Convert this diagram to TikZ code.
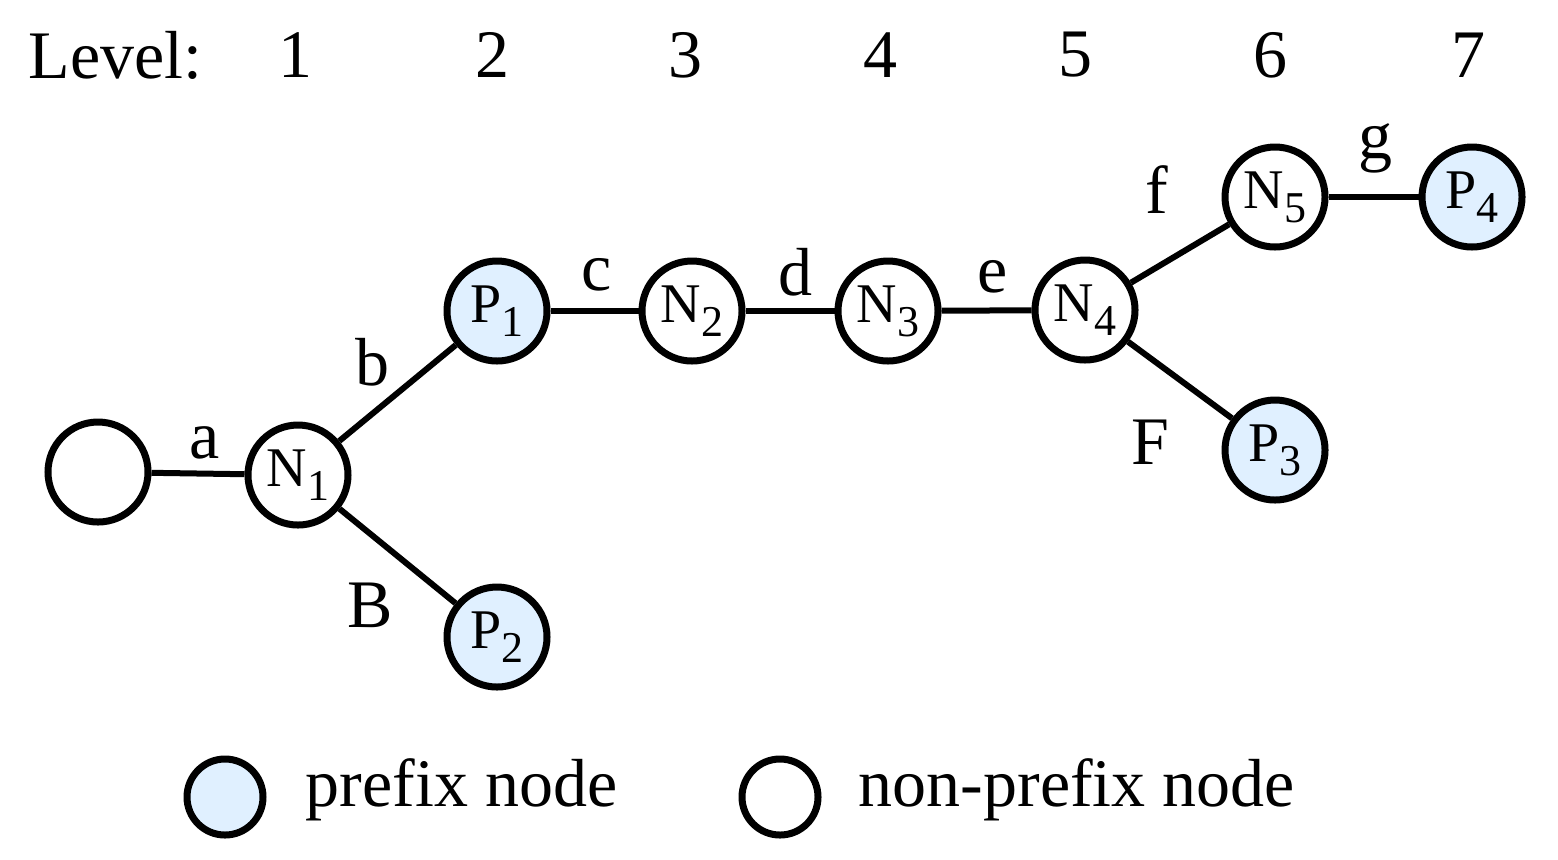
\documentclass[tikz,border=0pt]{standalone}
\usepackage{fontspec}
\setmainfont{Liberation Serif}
\begin{document}
\begin{tikzpicture}[x=0.25pt,y=-0.25pt,
  nd/.style={circle,draw=black,line width=1.75pt,minimum size=25pt,inner sep=0pt,font=\fontsize{14}{14}\selectfont},
  pf/.style={nd,fill=blue!50!cyan!12},
  ed/.style={line width=1.5pt},
  lb/.style={font=\fontsize{17}{17}\selectfont,inner sep=0pt}]
\useasboundingbox (0,0) rectangle (1558,859);
\newcommand{\lbl}[2]{#1\raisebox{-0.55ex}{\fontsize{11}{11}\selectfont #2}}
\node[nd] (r) at (98,472) {};
\node[nd] (n1) at (298,475) {\lbl{N}{1}};
\node[pf] (p1) at (497,311) {\lbl{P}{1}};
\node[nd] (n2) at (692,311) {\lbl{N}{2}};
\node[nd] (n3) at (888,311) {\lbl{N}{3}};
\node[nd] (n4) at (1085,310) {\lbl{N}{4}};
\node[nd] (n5) at (1275,197) {\lbl{N}{5}};
\node[pf] (p4) at (1472,197) {\lbl{P}{4}};
\node[pf] (p3) at (1275,450) {\lbl{P}{3}};
\node[pf] (p2) at (497,637) {\lbl{P}{2}};
\draw[ed] (r)--(n1); \draw[ed] (n1)--(p1); \draw[ed] (n1)--(p2);
\draw[ed] (p1)--(n2); \draw[ed] (n2)--(n3); \draw[ed] (n3)--(n4);
\draw[ed] (n4)--(n5); \draw[ed] (n4)--(p3); \draw[ed] (n5)--(p4);
\node[lb] (la) at (205,443) {a};
\node[lb] (lbb) at (372,362) {b};
\node[lb] (lc) at (597,275) {c};
\node[lb] (ld) at (795,272) {d};
\node[lb] (le) at (993,277) {e};
\node[lb] (lf) at (1157,190) {f};
\node[lb] (lg) at (1375,148) {g};
\node[lb] (lB) at (370,605) {B};
\node[lb] (lF) at (1150,442) {F};
\node[lb,anchor=west] (lev) at (28,55) {Level:};
\foreach \x/\t [count=\i] in {295/1,492/2,685/3,880/4,1075/5,1270/6,1468/7}
  \node[lb] (lv\i) at (\x,55) {\t};
\node[pf,minimum size=19pt] (k1) at (225,797) {};
\node[lb,anchor=west] (t1) at (305,790) {prefix node};
\node[nd,minimum size=19pt] (k2) at (780,797) {};
\node[lb,anchor=west] (t2) at (858,790) {non-prefix node};
\end{tikzpicture}
\end{document}
